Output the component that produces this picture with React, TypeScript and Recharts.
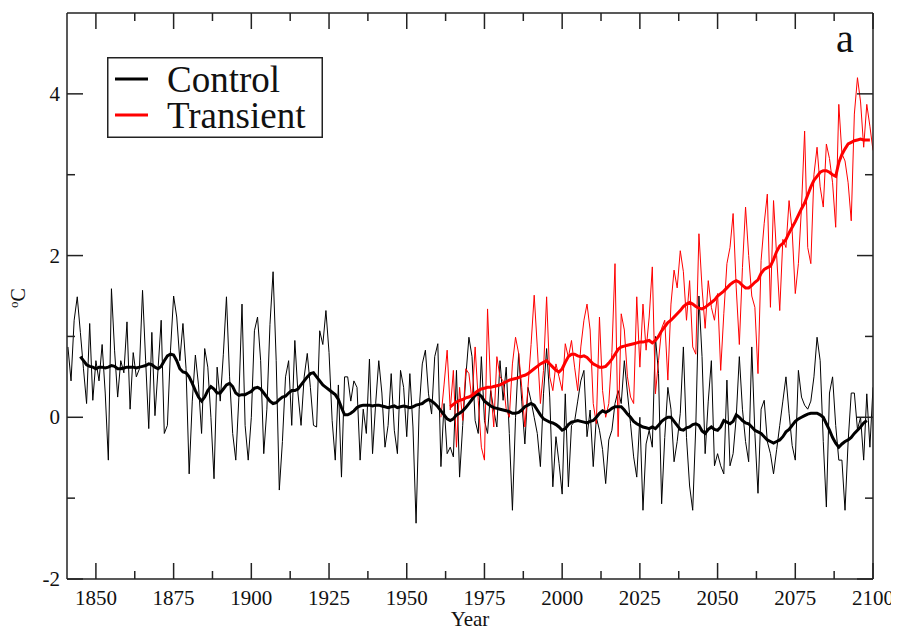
import React from 'react'
import { LineChart, Line, XAxis, YAxis } from 'recharts'

// ---- data ----
const CONTROL_START = 1841
const controlAnnual = [
  0.87, 0.45, 1.2, 1.49, 1.05, 0.6, 0.17, 1.16, 0.21, 0.7,
  0.45, 0.9, 0.3, -0.53, 1.59, 0.83, 0.25, 0.7, 0.55, 1.18,
  0.1, 0.8, 0.5, 0.6, 1.57, 0.7, -0.14, 1.05, 0.02, 0.6,
  1.2, -0.2, -0.1, 0.83, 1.5, 1.24, 0.7, 1.16, 0.6, -0.7,
  0.2, 0.77, 0.4, -0.2, 0.85, 0.62, 0.0, -0.76, 0.62, 0.2,
  0.78, 1.49, 0.5, -0.2, -0.53, 0.25, 1.4, -0.1, -0.53, 0.0,
  1.07, 1.24, 0.7, -0.45, 0.1, 1.15, 1.8, 0.7, -0.9, -0.3,
  0.5, 0.7, -0.1, 0.95, 0.3, -0.1, 0.5, 0.79, 0.37, -0.1,
  -0.12, 1.07, 0.9, 1.32, 0.8, -0.04, -0.53, 0.4, -0.74, 0.5,
  0.5, 0.2, 0.45, 0.37, -0.53, 0.1, -0.2, 0.72, -0.45, 0.17,
  0.7, 0.3, -0.37, -0.1, 0.54, -0.16, -0.45, 0.58, 0.37, -0.24,
  0.54, -0.12, -1.31, 0.1, 0.66, 0.83, 0.29, 0.04, 0.75, 0.91,
  -0.61, 0.17, -0.45, -0.37, -0.49, 0.58, -0.74, -0.1, 0.5, 0.99,
  0.75, -0.04, -0.2, 0.75, -0.04, -0.2, 0.33, 0.09, -0.12, 0.7,
  0.21, 0.62, -0.2, -1.15, 0.0, 0.79, 0.2, -0.33, 0.37, 0.2,
  0.0, -0.2, -0.61, 0.29, 0.85, 0.25, -0.86, -0.24, -0.57, -0.95,
  0.29, -0.86, -0.1, -0.05, 0.2, 0.45, 0.58, -0.24, 0.09, -0.61,
  0.0, -0.16, -0.4, -0.82, -0.28, -0.16, 0.17, 0.33, 0.17, 0.7,
  0.3, -0.08, -0.49, -0.74, 0.0, -1.15, -0.33, -0.16, -0.37, 1.0,
  0.54, -1.07, -0.25, 0.37, 0.1, -0.55, -0.3, 0.05, 0.87, -0.25,
  -0.85, -1.15, -0.1, 1.5, 0.75, -0.45, 0.2, 0.7, -0.6, -0.45,
  -0.6, -0.7, 0.46, -0.6, -0.45, 0.0, 0.75, 0.1, -0.3, -0.55,
  0.87, -0.2, -0.94, 0.1, 0.21, -0.3, -0.45, -0.7, -0.4, -0.1,
  0.2, 0.5, 0.05, -0.35, -0.53, 0.58, 0.25, 0.15, 0.1, 0.2,
  0.5, 0.99, 0.7, -0.3, -1.11, 0.3, 0.5, -0.1, -0.53, -0.53,
  -1.15, -0.3, 0.3, 0.3, -0.15, 0.0, -0.53, 0.29, -0.37, 0.37,
]

const CONTROL_SMOOTH_START = 1845
const controlSmooth = [
  0.75, 0.7, 0.65, 0.63, 0.62, 0.6,
  0.62, 0.62, 0.61, 0.62, 0.64, 0.63, 0.6, 0.6, 0.61, 0.62,
  0.62, 0.62, 0.61, 0.62, 0.63, 0.64, 0.66, 0.65, 0.62, 0.6,
  0.63, 0.7, 0.76, 0.78, 0.77, 0.7, 0.6, 0.56, 0.55, 0.5,
  0.42, 0.33, 0.25, 0.2, 0.25, 0.33, 0.38, 0.35, 0.3, 0.3,
  0.35, 0.4, 0.42, 0.38, 0.3, 0.27, 0.28, 0.28, 0.3, 0.32,
  0.36, 0.37, 0.35, 0.3, 0.25, 0.2, 0.17, 0.18, 0.22, 0.25,
  0.26, 0.3, 0.33, 0.33, 0.35, 0.4, 0.45, 0.5, 0.54, 0.55,
  0.5, 0.45, 0.4, 0.37, 0.34, 0.31, 0.28, 0.22, 0.12, 0.03,
  0.03, 0.05, 0.08, 0.12, 0.14, 0.15, 0.15, 0.15, 0.14, 0.15,
  0.15, 0.14, 0.13, 0.12, 0.13, 0.14, 0.12, 0.13, 0.14, 0.13,
  0.12, 0.13, 0.15, 0.16, 0.17, 0.2, 0.22, 0.2, 0.17, 0.13,
  0.08, 0.03, -0.02, -0.04, -0.02, 0.03, 0.05, 0.08, 0.12, 0.17,
  0.22, 0.27, 0.29, 0.26, 0.2, 0.17, 0.14, 0.12, 0.11, 0.1,
  0.09, 0.08, 0.07, 0.05, 0.05, 0.06, 0.09, 0.13, 0.15, 0.17,
  0.15, 0.09, 0.03, -0.02, -0.04, -0.06, -0.07, -0.09, -0.12, -0.16,
  -0.14, -0.09, -0.06, -0.05, -0.04, -0.05, -0.06, -0.07, -0.05, -0.04,
  0.0, 0.05, 0.08, 0.06, 0.08, 0.11, 0.13, 0.13, 0.13, 0.09,
  0.04, 0.0, -0.05, -0.08, -0.1, -0.12, -0.13, -0.14, -0.12, -0.14,
  -0.1, -0.05, -0.02, 0.0, 0.0, -0.05, -0.1, -0.15, -0.16, -0.13,
  -0.12, -0.09, -0.08, -0.1, -0.17, -0.2, -0.15, -0.12, -0.15, -0.16,
  -0.12, -0.04, -0.06, -0.08, -0.05, 0.03, 0.0, -0.04, -0.07, -0.08,
  -0.12, -0.16, -0.18, -0.2, -0.24, -0.28, -0.3, -0.32, -0.3, -0.28,
  -0.24, -0.18, -0.15, -0.1, -0.05, -0.02, 0.0, 0.02, 0.04, 0.05,
  0.05, 0.05, 0.03, 0.0, -0.08, -0.16, -0.25, -0.32, -0.37, -0.33,
  -0.3, -0.28, -0.25, -0.2, -0.16, -0.12, -0.07, -0.04,
]

const TRANSIENT_START = 1961
const transientAnnual = [
  0.0, 0.4, 0.83, 0.09, 0.58, -0.37, 0.37, -0.04, 0.6, 0.54,
  0.2, 0.87, 0.21, -0.37, -0.53, 1.34, 0.37, -0.12, 0.75, 0.5,
  0.45, 0.1, 0.0, 0.66, 0.99, 0.79, 0.37, -0.12, 0.37, 0.9,
  1.51, 0.87, 0.17, 0.58, 1.49, 0.5, 0.33, 0.66, 0.5, 0.33,
  0.91, 0.74, 0.95, 0.62, 0.33, 0.87, 1.2, 1.4, 1.08, 0.17,
  -0.08, 1.24, 0.33, 0.0, 0.17, 0.8, 1.9, -0.24, 1.28, 1.08,
  0.5, 0.25, 0.17, 1.49, 0.62, 1.4, 0.83, 1.24, 1.86, 0.29,
  0.7, 1.1, 1.2, 0.46, 1.4, 1.82, 1.6, 2.06, 1.8, 1.2,
  1.69, 0.87, 0.78, 2.27, 1.6, 1.1, 1.69, 1.36, 1.2, 1.53,
  0.58, 1.28, 1.9, 2.1, 2.52, 1.6, 0.9, 1.85, 2.6, 2.0,
  1.5, 1.36, 0.54, 1.94, 2.4, 2.76, 1.36, 2.68, 2.0, 1.32,
  2.2, 2.1, 2.68, 2.3, 1.53, 1.9, 2.6, 3.54, 2.1, 1.9,
  3.0, 3.34, 2.85, 2.6, 3.38, 3.2, 2.9, 2.35, 3.87, 3.26,
  3.17, 2.9, 2.43, 3.75, 4.2, 3.9, 3.34, 3.87, 3.6, 3.3,
]

const TRANSIENT_SMOOTH_START = 1964
const transientSmooth = [
  0.13, 0.16, 0.19, 0.21, 0.22, 0.24, 0.25,
  0.27, 0.3, 0.33, 0.35, 0.36, 0.37, 0.37, 0.38, 0.39, 0.4,
  0.42, 0.44, 0.46, 0.47, 0.48, 0.49, 0.51, 0.52, 0.54, 0.57,
  0.6, 0.63, 0.66, 0.68, 0.7, 0.66, 0.62, 0.58, 0.56, 0.6,
  0.68, 0.75, 0.78, 0.78, 0.76, 0.75, 0.76, 0.74, 0.7, 0.66,
  0.64, 0.62, 0.62, 0.63, 0.67, 0.72, 0.78, 0.84, 0.87, 0.88,
  0.89, 0.9, 0.91, 0.92, 0.93, 0.93, 0.94, 0.95, 0.92, 0.95,
  1.0, 1.07, 1.12, 1.17, 1.2, 1.24, 1.28, 1.32, 1.37, 1.4,
  1.42, 1.4, 1.37, 1.35, 1.34, 1.36, 1.39, 1.42, 1.45, 1.5,
  1.53, 1.56, 1.6, 1.64, 1.67, 1.69, 1.67, 1.63, 1.6, 1.6,
  1.63, 1.67, 1.7, 1.78, 1.83, 1.85, 1.87, 1.95, 2.05, 2.12,
  2.15, 2.2, 2.28, 2.35, 2.42, 2.5, 2.58, 2.65, 2.75, 2.85,
  2.93, 2.98, 3.03, 3.05, 3.05, 3.03, 3.0, 2.98, 3.15, 3.25,
  3.32, 3.38, 3.4, 3.42, 3.43, 3.44, 3.43, 3.43, 3.43,
]

const xTicks = [1850, 1862.5, 1875, 1887.5, 1900, 1912.5, 1925, 1937.5, 1950, 1962.5,
  1975, 1987.5, 2000, 2012.5, 2025, 2037.5, 2050, 2062.5, 2075, 2087.5, 2100]
const yTicks = [-2, -1, 0, 1, 2, 3, 4]
const seriesNames = ['Control', 'Transient']

const toPoints = (start: number, values: number[]) =>
  values.map((v, i) => ({ year: start + i, value: v }))

const controlData = toPoints(CONTROL_START, controlAnnual)
const controlSmoothData = toPoints(CONTROL_SMOOTH_START, controlSmooth)
const transientData = toPoints(TRANSIENT_START, transientAnnual)
const transientSmoothData = toPoints(TRANSIENT_SMOOTH_START, transientSmooth)

const FONT = "'Liberation Serif', 'Times New Roman', serif"
const AXIS = '#222'
const MAJOR = 16
const MINOR = 8
const textStyle = { fontFamily: FONT, fill: '#111' }

const isMajorX = (v: number) => v % 25 === 0
const isMajorY = (v: number) => v % 2 === 0

function BottomTick({ x, y, payload }: any) {
  const v = payload.value
  const major = isMajorX(v)
  return (
    <g>
      <line x1={x} x2={x} y1={y} y2={y - (major ? MAJOR : MINOR)} stroke={AXIS} strokeWidth={1.5} />
      {major && (
        <text x={x} y={y + 26} textAnchor="middle" fontSize={21} style={textStyle}>
          {v}
        </text>
      )}
    </g>
  )
}

function TopTick({ x, y, payload }: any) {
  const major = isMajorX(payload.value)
  return <line x1={x} x2={x} y1={y} y2={y + (major ? MAJOR : MINOR)} stroke={AXIS} strokeWidth={1.5} />
}

function LeftTick({ x, y, payload }: any) {
  const v = payload.value
  const major = isMajorY(v)
  return (
    <g>
      <line x1={x} x2={x + (major ? MAJOR : MINOR)} y1={y} y2={y} stroke={AXIS} strokeWidth={1.5} />
      {major && (
        <text x={x - 7} y={y + 7} textAnchor="end" fontSize={21} style={textStyle}>
          {v}
        </text>
      )}
    </g>
  )
}

function RightTick({ x, y, payload }: any) {
  const major = isMajorY(payload.value)
  return <line x1={x} x2={x - (major ? MAJOR : MINOR)} y1={y} y2={y} stroke={AXIS} strokeWidth={1.5} />
}

function DegLabel() {
  return (
    <text transform="rotate(-90, 25, 298)" x={25} y={298} textAnchor="middle" style={textStyle}>
      <tspan fontSize={13} dy={-7}>o</tspan>
      <tspan fontSize={20} dy={7}>C</tspan>
    </text>
  )
}

export default function App() {
  return (
    <div style={{ position: 'relative', width: 899, height: 630, marginTop: -8, marginLeft: -8, background: '#fff' }}>
      <LineChart width={899} height={630} margin={{ top: 0, right: 0, bottom: 0, left: 0 }}>
        <XAxis
          xAxisId={0}
          dataKey="year"
          type="number"
          domain={[1840.7, 2100]}
          allowDataOverflow
          ticks={xTicks}
          interval={0}
          height={51}
          tickSize={0}
          tickMargin={0}
          tickLine={false}
          axisLine={{ stroke: AXIS, strokeWidth: 1.5 }}
          tick={(p: any) => <BottomTick {...p} />}
        />
        <XAxis
          xAxisId="top"
          orientation="top"
          dataKey="year"
          type="number"
          domain={[1840.7, 2100]}
          allowDataOverflow
          ticks={xTicks}
          interval={0}
          height={13}
          tickSize={0}
          tickMargin={0}
          tickLine={false}
          axisLine={{ stroke: AXIS, strokeWidth: 1.5 }}
          tick={(p: any) => <TopTick {...p} />}
        />
        <YAxis
          yAxisId={0}
          type="number"
          domain={[-2, 5]}
          allowDataOverflow
          ticks={yTicks}
          interval={0}
          width={67}
          tickSize={0}
          tickMargin={0}
          tickLine={false}
          axisLine={{ stroke: AXIS, strokeWidth: 1.5 }}
          tick={(p: any) => <LeftTick {...p} />}
          label={<DegLabel />}
        />
        <YAxis
          yAxisId="right"
          orientation="right"
          type="number"
          domain={[-2, 5]}
          allowDataOverflow
          ticks={yTicks}
          interval={0}
          width={26}
          tickSize={0}
          tickMargin={0}
          tickLine={false}
          axisLine={{ stroke: AXIS, strokeWidth: 1.5 }}
          tick={(p: any) => <RightTick {...p} />}
        />
        <Line data={controlData} dataKey="value" stroke="#000" strokeWidth={1} dot={false} isAnimationActive={false} />
        <Line data={transientData} dataKey="value" stroke="#ff0000" strokeWidth={1} dot={false} isAnimationActive={false} />
        <Line data={controlSmoothData} dataKey="value" stroke="#000" strokeWidth={3} dot={false} isAnimationActive={false} />
        <Line data={transientSmoothData} dataKey="value" stroke="#ff0000" strokeWidth={3} dot={false} isAnimationActive={false} />
      </LineChart>

      {/* legend box, top left */}
      <svg style={{ position: 'absolute', left: 107, top: 57 }} width={216} height={81}>
        <rect x={0.75} y={0.75} width={214.5} height={79.5} fill="#fff" stroke={AXIS} strokeWidth={1.5} />
        {seriesNames.map((name, i) => (
          <g key={name}>
            <line x1={8} x2={41} y1={22 + i * 36} y2={22 + i * 36} stroke={i === 0 ? '#000' : '#ff0000'} strokeWidth={3} />
            <text x={60} y={35 + i * 36} fontSize={37} style={textStyle}>{name}</text>
          </g>
        ))}
      </svg>

      <div style={{ position: 'absolute', left: 836, top: 19, fontFamily: FONT, fontSize: 40, lineHeight: '40px', color: '#111' }}>a</div>

      <div style={{ position: 'absolute', left: 420, width: 100, top: 609, textAlign: 'center',
        fontFamily: FONT, fontSize: 21, lineHeight: '21px', color: '#111' }}>Year</div>
    </div>
  )
}
